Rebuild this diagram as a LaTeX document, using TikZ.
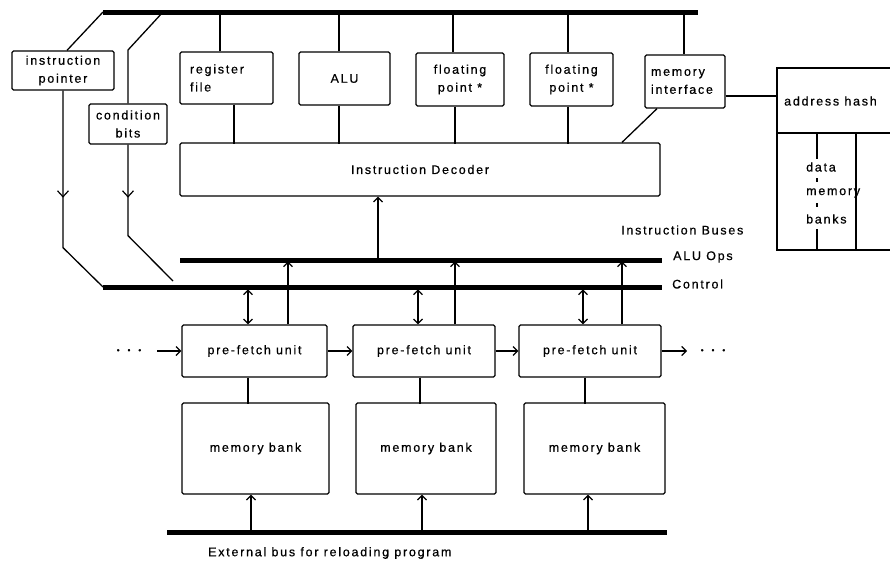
\documentclass[tikz,border=0pt]{standalone}
\usepackage{fontspec}
\setmainfont{Liberation Sans}[LetterSpace=14,FakeBold=0.6]
\usetikzlibrary{arrows.meta,decorations.markings}
\begin{document}
\begin{tikzpicture}[x=1pt,y=-1pt,
  every node/.style={font=\fontsize{12.5}{18}\selectfont},
  box/.style={draw,line width=1.3pt,rounded corners=1.5pt,inner sep=2pt,align=center},
  bus/.style={line width=5pt},
  ln/.style={line width=1.3pt},
  lbl/.style={inner sep=0pt,anchor=west},
  >={Straight Barb[length=4.5pt,width=9pt,line width=1.2pt]},
  midarrow/.style={postaction={decorate},decoration={markings,mark=at position #1 with {\arrow{Straight Barb[length=6pt,width=11pt,line width=1.2pt]}}}}]
\useasboundingbox (0,0) rectangle (890,562);

% buses
\coordinate (tb1) at (103,12);
\coordinate (tb2) at (698,12);
\coordinate (tb3) at (163,12);
\coordinate (al) at (180,260);
\coordinate (ar) at (662,260);
\coordinate (cl) at (103,287);
\coordinate (cr) at (662,287);
\coordinate (el) at (167,532);
\coordinate (er) at (667,532);
\draw[bus] (tb1) -- (tb2);
\draw[bus] (al) -- (ar);
\draw[bus] (cl) -- (cr);
\draw[bus] (el) -- (er);

% top boxes
\node[box,minimum width=102pt,minimum height=39pt] (ip) at (63,70.5) {instruction\\pointer};
\node[box,minimum width=78pt,minimum height=40pt] (cb) at (128,124) {condition\\bits};
\node[box,align=left,text width=73pt,inner xsep=10pt,minimum width=93pt,minimum height=52pt] (rf) at (226.5,78) {register\\file};
\node[box,minimum width=91pt,minimum height=53pt] (alu) at (344.5,78.5) {ALU};
\node[box,minimum width=88pt,minimum height=53pt] (fp1) at (460,79.5) {floating\\point *};
\node[box,minimum width=83pt,minimum height=53pt] (fp2) at (571.5,79.5) {floating\\point *};
\node[box,align=left,text width=68pt,inner xsep=6pt,minimum width=80pt,minimum height=53pt] (mi) at (685,81.5) {memory\\interface};
\node[box,minimum width=480pt,minimum height=53pt] (dec) at (420,169.5) {Instruction Decoder};

% connections to top bus
\draw[ln] ([xshift=-6.5pt]rf.north) -- ++(0,-40);
\draw[ln] ([xshift=-5.5pt]alu.north) -- ++(0,-40);
\draw[ln] ([xshift=-7pt]fp1.north) -- ++(0,-41);
\draw[ln] ([xshift=-3.5pt]fp2.north) -- ++(0,-41);
\draw[ln] ([xshift=-1pt]mi.north) -- ++(0,-43);
% connections to decoder
\draw[ln] ([xshift=7.5pt]rf.south) -- ++(0,39);
\draw[ln] ([xshift=-5.5pt]alu.south) -- ++(0,38);
\draw[ln] ([xshift=-5pt]fp1.south) -- ++(0,37);
\draw[ln] ([xshift=-3.5pt]fp2.south) -- ++(0,37);
\draw[ln] ([xshift=-28pt]mi.south) -- ([xshift=202pt]dec.north);

% instruction pointer and condition bits paths
\draw[ln] ([xshift=4pt]ip.north) -- (tb1);
\draw[ln,midarrow=107pt] (ip.south) -- ++(0,157) -- (cl);
\draw[ln] (tb3) -- ++(-35,38) -- (cb.north);
\coordinate (cbend) at (173,281);
\draw[ln,midarrow=53pt] (cb.south) -- ++(0,91) -- (cbend);

% decoder input
\draw[ln,<-] ([xshift=-42pt]dec.south) -- ++(0,62);

% address hash / data memory banks
\coordinate (hashL) at (777,96);
\draw[ln] (890,68) -- (777,68) -- (777,250) -- (890,250);
\draw[ln] (777,133) -- (890,133);
\draw[ln] (856,133) -- (856,250);
\draw[ln] (817,133) -- (817,159);
\draw[ln] (817,178) -- (817,182);
\draw[ln] (817,203) -- (817,207);
\draw[ln] (817,229) -- (817,250);
\node[lbl] (hash) at (784,101) {address hash};
\node[lbl] (dm1) at (806,167) {data};
\node[lbl] (dm2) at (806,193) {memory};
\node[lbl] (dm3) at (806,219) {banks};
\draw[ln] (mi.east |- hashL) -- (hashL);

% bus labels
\node[lbl] (ib) at (621,230) {Instruction Buses};
\node[lbl] (aluops) at (673,257) {ALU Ops};
\node[lbl] (ctl) at (672,284) {Control};

% prefetch units
\node[box,minimum width=145pt,minimum height=52pt] (pf1) at (254.5,351) {pre-fetch unit};
\node[box,minimum width=142pt,minimum height=52pt] (pf2) at (424,351) {pre-fetch unit};
\node[box,minimum width=142pt,minimum height=52pt] (pf3) at (590,351) {pre-fetch unit};
\node[inner sep=0pt,font=\fontsize{8}{8}\selectfont] (dotsL) at (129,351) {•\hspace{8pt}•\hspace{8pt}•};
\node[inner sep=0pt,font=\fontsize{8}{8}\selectfont] (dotsR) at (713,351) {•\hspace{8pt}•\hspace{8pt}•};
\coordinate (inL) at (157,351);
\coordinate (outR) at (687,351);
\draw[ln,->] (inL) -- (pf1.west);
\draw[ln,->] (pf1.east) -- (pf2.west);
\draw[ln,->] (pf2.east) -- (pf3.west);
\draw[ln,->] (pf3.east) -- (outR);

% control <-> prefetch, prefetch -> ALU ops
\draw[ln,<->] ([xshift=-6.5pt]pf1.north) -- ++(0,-35);
\draw[ln,<->] ([xshift=-6pt]pf2.north) -- ++(0,-35);
\draw[ln,<->] ([xshift=-7pt]pf3.north) -- ++(0,-35);
\draw[ln,->] ([xshift=33.5pt]pf1.north) -- ++(0,-63);
\draw[ln,->] ([xshift=31pt]pf2.north) -- ++(0,-63);
\draw[ln,->] ([xshift=32pt]pf3.north) -- ++(0,-63);

% memory banks
\node[box,minimum width=147pt,minimum height=91pt] (mb1) at (255.5,448.5) {memory bank};
\node[box,minimum width=140pt,minimum height=91pt] (mb2) at (426,448.5) {memory bank};
\node[box,minimum width=141pt,minimum height=91pt] (mb3) at (594.5,448.5) {memory bank};
\draw[ln] ([xshift=-6.5pt]pf1.south) -- ++(0,26);
\draw[ln] ([xshift=-4pt]pf2.south) -- ++(0,26);
\draw[ln] ([xshift=-5pt]pf3.south) -- ++(0,26);
\draw[ln,<-] ([xshift=-4.5pt]mb1.south) -- ++(0,35.5);
\draw[ln,<-] ([xshift=-4pt]mb2.south) -- ++(0,35.5);
\draw[ln,<-] ([xshift=-6.5pt]mb3.south) -- ++(0,35.5);

\node[lbl] (ext) at (208,553) {External bus for reloading program};
\end{tikzpicture}
\end{document}
